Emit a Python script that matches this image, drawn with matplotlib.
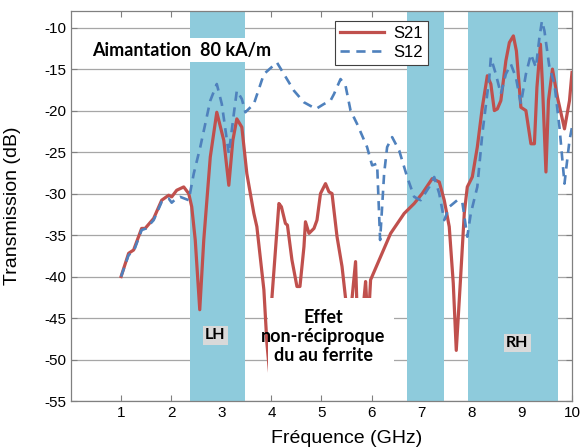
import matplotlib
matplotlib.use("Agg")
import matplotlib.pyplot as plt
from matplotlib.patches import Rectangle

plt.rcParams['axes.unicode_minus'] = False

# frequence (GHz) / transmission (dB)
f_s21 = [1.0, 1.15, 1.25, 1.41, 1.48, 1.65, 1.81, 1.95, 2.01, 2.11, 2.25, 2.35, 2.41, 2.48,
         2.57, 2.65, 2.78, 2.91, 3.05, 3.15, 3.23, 3.31, 3.41, 3.51, 3.65, 3.71, 3.85, 3.91,
         3.97, 4.01, 4.15, 4.2, 4.28, 4.32, 4.41, 4.51, 4.57, 4.65, 4.68, 4.75, 4.85, 4.91,
         4.98, 5.08, 5.15, 5.21, 5.31, 5.41, 5.48, 5.55, 5.61, 5.68, 5.72, 5.8, 5.85, 5.88,
         5.93, 5.98, 6.18, 6.38, 6.65, 6.85, 7.01, 7.21, 7.35, 7.45, 7.55, 7.63, 7.69, 7.77,
         7.85, 7.91, 8.01, 8.11, 8.21, 8.31, 8.38, 8.45, 8.51, 8.58, 8.68, 8.75, 8.83, 8.89,
         8.98, 9.08, 9.18, 9.25, 9.30, 9.37, 9.41, 9.48, 9.53, 9.61, 9.71, 9.85, 9.95, 10.0]
s21 = [-40, -37.2, -36.8, -34.2, -34.2, -33, -30.8, -30.2, -30.4, -29.6, -29.2, -30, -31.6, -35.6,
       -44, -35.6, -25.6, -20.2, -23.6, -29, -23.6, -21, -22, -27.6, -32.4, -34, -41.6, -48,
       -52, -42.6, -31.2, -31.6, -33.6, -33.8, -38, -41.2, -41.2, -36.4, -33.4, -34.8, -34.2, -33.2,
       -30, -28.8, -29.8, -30, -35.2, -38.8, -42.6, -50, -42.6, -38.2, -46, -47, -42.6, -40.6,
       -46, -40.4, -37.6, -34.8, -32.4, -31.2, -30, -28.2, -28.6, -30.8, -34, -40.8, -48.9, -40.8,
       -32.4, -29.2, -28, -24.4, -19.6, -15.8, -16.8, -20, -19.8, -18.8, -14, -11.8, -11, -12.8,
       -19.6, -20, -24, -24, -17.2, -12, -16.8, -27.4, -18.8, -15, -18.4, -22.2, -18.8, -15.4]

f_s12 = [1.0, 1.15, 1.25, 1.41, 1.5, 1.65, 1.81, 1.95, 2.01, 2.1, 2.18, 2.35, 2.45, 2.58,
         2.78, 2.91, 3.01, 3.15, 3.25, 3.31, 3.41, 3.48, 3.65, 3.85, 4.11, 4.25, 4.45, 4.65,
         4.89, 5.05, 5.18, 5.25, 5.38, 5.48, 5.58, 5.71, 5.91, 6.01, 6.11, 6.17, 6.25, 6.31,
         6.41, 6.55, 6.71, 6.85, 6.98, 7.15, 7.25, 7.35, 7.45, 7.55, 7.71, 7.81, 7.91, 7.98,
         8.11, 8.21, 8.35, 8.38, 8.48, 8.58, 8.68, 8.78, 8.88, 8.98, 9.08, 9.18, 9.28, 9.35,
         9.40, 9.45, 9.55, 9.65, 9.75, 9.85, 9.95, 10.0]
s12 = [-40, -37.4, -37, -34.4, -34.2, -33.2, -31, -30.6, -31.1, -30.6, -30.4, -30.8, -27.6, -24.4,
       -18.8, -16.8, -19.2, -25.2, -20.4, -17.6, -18.6, -20.2, -19.2, -15.6, -14.2, -15.6, -17.6, -19,
       -19.8, -19.2, -18.8, -18, -16.2, -17, -20, -21.6, -24.4, -26.6, -26.4, -35.6, -27.6, -24.4,
       -23.2, -24.8, -28, -30.4, -30.8, -29.2, -28, -30, -33.2, -31.6, -30.8, -31, -35.2, -32.4,
       -29.2, -22.8, -16, -13.6, -15.6, -18, -15.6, -14.4, -16, -19.2, -15.6, -13.2, -14.8, -11.2,
       -9.2, -10.4, -14.8, -16.8, -22, -28.8, -23.6, -22]

bandes = [(2.38, 3.48), (6.71, 7.45), (7.93, 9.73)]

fig = plt.figure(figsize=(5.81, 4.48), dpi=100)
ax = fig.add_axes([0.1222, 0.1049, 0.8623, 0.8705])

for a, b in bandes:
    ax.axvspan(a, b, color='#8ecbdc', lw=0, zorder=1)

ax.plot(f_s21, s21, color='#c0504d', lw=2.3, label='S21', zorder=3, solid_joinstyle='round')
ax.plot(f_s12, s12, color='#4f81bd', lw=1.9, ls=(0, (3.5, 2.5)), label='S12', zorder=3)

# boites blanches sous les textes
ax.add_patch(Rectangle((3.94, -53.8), 2.5, 11.2, facecolor='white', edgecolor='none', zorder=4))
ax.add_patch(Rectangle((0.3, -14.1), 3.8, 2.9, facecolor='white', edgecolor='none', zorder=4))

txt = dict(family=['Lato', 'DejaVu Sans'], fontweight='bold', zorder=5)
ax.text(2.2, -12.7, 'Aimantation  80 kA/m', ha='center', va='center', fontsize=13, **txt)
ax.text(5.04, -47.2, 'Effet\nnon-réciproque\ndu au ferrite', ha='center', va='center',
        fontsize=13, linespacing=1.15, **txt)
ax.text(2.88, -47.1, 'LH', ha='center', va='center', fontsize=11.5,
        bbox=dict(facecolor='#d9d9d9', edgecolor='none', pad=1.5), **txt)
ax.text(8.91, -48.0, 'RH', ha='center', va='center', fontsize=11.5,
        bbox=dict(facecolor='#d9d9d9', edgecolor='none', pad=1.5), **txt)

ax.set_xlim(0, 10)
ax.set_ylim(-55, -8)
ax.set_xticks(range(1, 11))
ax.set_yticks(range(-55, -9, 5))
ax.yaxis.grid(True, color='#a6a6a6', lw=0.9, zorder=0)
ax.set_axisbelow(True)
ax.tick_params(direction='in', top=True, right=True, length=4, color='#808080', labelsize=11)
for lab in ax.get_xticklabels() + ax.get_yticklabels():
    lab.set_family('Liberation Sans')
for sp in ax.spines.values():
    sp.set_color('#808080')
    sp.set_linewidth(0.9)

ax.set_xlabel('Fréquence (GHz)', fontsize=14, family='Liberation Sans')
ax.xaxis.set_label_coords(0.55, -0.075)
ax.set_ylabel('Transmission (dB)', fontsize=14, family='Liberation Sans')
ax.yaxis.set_label_coords(-0.1, 0.5)

leg = ax.legend(loc='upper right', bbox_to_anchor=(0.73, 0.995), fancybox=False,
                edgecolor='#404040', framealpha=1, prop={'family': 'Liberation Sans', 'size': 12},
                handlelength=2.6, borderpad=0.3, labelspacing=0.2, handletextpad=0.6)
leg.get_frame().set_linewidth(0.8)
leg.set_zorder(6)

fig.savefig('out.png', dpi=100)
